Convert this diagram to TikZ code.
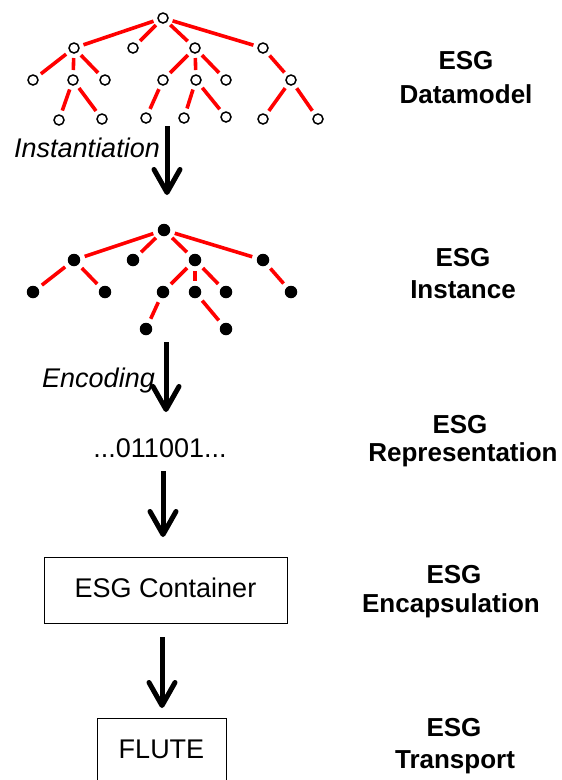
\documentclass[tikz,border=0pt]{standalone}
\usepackage{fontspec}
\setmainfont{Liberation Sans}
\usetikzlibrary{arrows.meta}
\begin{document}
\begin{tikzpicture}[x=1pt,y=-1pt,
  ocirc/.style={circle,draw=black,line width=1.5pt,fill=white,minimum size=10pt,inner sep=0pt,outer sep=0pt},
  bdot/.style={circle,fill=black,minimum size=12.5pt,inner sep=0pt,outer sep=0pt},
  link/.style={draw=red,line width=3.6pt,shorten <=5pt,shorten >=5pt},
  flow/.style={line width=5pt,-{Straight Barb[length=23pt,width=26pt,line width=5pt,round]}},
  txt/.style={font=\fontsize{27}{32}\selectfont,inner sep=0pt,anchor=base},
  lab/.style={txt,font=\fontsize{26}{32}\selectfont\bfseries},
  itl/.style={txt,font=\fontsize{27}{32}\selectfont\itshape,anchor=base east},
  boxed/.style={txt,draw=black,line width=0.8pt}]
\useasboundingbox (0,0) rectangle (562,780);
\fill[white] (0,0) rectangle (562,780);
\clip (0,0) rectangle (562,780);

% ---------- Datamodel tree ----------
\node[ocirc] (r) at (163,18) {};
\node[ocirc] (a) at (74,48) {};
\node[ocirc] (b) at (133,48) {};
\node[ocirc] (c) at (195,48) {};
\node[ocirc] (d) at (263,48) {};
\node[ocirc] (a1) at (33,80) {};
\node[ocirc] (a2) at (73,80) {};
\node[ocirc] (a3) at (105,80) {};
\node[ocirc] (c1) at (163,80) {};
\node[ocirc] (c2) at (196,80) {};
\node[ocirc] (c3) at (226,80) {};
\node[ocirc] (d1) at (291,80) {};
\node[ocirc] (a21) at (59,120) {};
\node[ocirc] (a22) at (102,119) {};
\node[ocirc] (c11) at (146,118) {};
\node[ocirc] (c21) at (184,118) {};
\node[ocirc] (c22) at (226,117) {};
\node[ocirc] (d11) at (263,119) {};
\node[ocirc] (d12) at (318,119) {};
\foreach \u/\v in {r/a,r/b,r/c,r/d,a/a1,a/a2,a/a3,c/c1,c/c2,c/c3,d/d1,a2/a21,a2/a22,c1/c11,c2/c21,c2/c22,d1/d11,d1/d12}
  \draw[link] (\u) -- (\v);

% ---------- Instance tree ----------
\node[bdot] (R) at (164,230) {};
\node[bdot] (A) at (74,260) {};
\node[bdot] (B) at (133,260) {};
\node[bdot] (C) at (195,260) {};
\node[bdot] (D) at (263,260) {};
\node[bdot] (A1) at (33,292) {};
\node[bdot] (A3) at (105,292) {};
\node[bdot] (C1) at (163,292) {};
\node[bdot] (C2) at (195,292) {};
\node[bdot] (C3) at (226,292) {};
\node[bdot] (D1) at (291,292) {};
\node[bdot] (C11) at (146,329) {};
\node[bdot] (C21) at (226,329) {};
\foreach \u/\v in {R/A,R/B,R/C,R/D,A/A1,A/A3,C/C1,C/C2,C/C3,D/D1,C1/C11,C2/C21}
  \draw[link] (\u) -- (\v);

% ---------- middle column ----------
\node[txt] (bits) at (160,457) {...011001...};
\node[boxed,text height=40pt,text depth=26pt,minimum width=243pt] (cont) at (165.5,597) {ESG Container};
\node[boxed,text height=40pt,text depth=50pt,minimum width=129pt] (flute) at (161.5,758) {FLUTE};

% ---------- arrows ----------
\coordinate (i1) at (167,126);
\coordinate (i2) at (167,195);
\coordinate (e1) at (166,342);
\coordinate (e2) at (166,412);
\coordinate (b1) at (163,471);
\coordinate (b2) at (163,537);
\coordinate (k1) at (162,637);
\coordinate (k2) at (162,708);
\draw[flow] (i1) -- (i2);
\draw[flow] (e1) -- (e2);
\draw[flow] (b1) -- (b2);
\draw[flow] (k1) -- (k2);
\node[itl] (inst) at (160,157) {Instantiation};
\node[itl] (enc) at (155,387) {Encoding};

% ---------- right labels ----------
\node[lab] (l1a) at (466,69) {ESG};
\node[lab] (l1b) at (466,103) {Datamodel};
\node[lab] (l2a) at (463,266) {ESG};
\node[lab] (l2b) at (463,298) {Instance};
\node[lab] (l3a) at (460,433) {ESG};
\node[lab] (l3b) at (463,461) {Representation};
\node[lab] (l4a) at (454,583) {ESG};
\node[lab] (l4b) at (451,612) {Encapsulation};
\node[lab] (l5a) at (454,736) {ESG};
\node[lab] (l5b) at (455,768) {Transport};
\end{tikzpicture}
\end{document}
